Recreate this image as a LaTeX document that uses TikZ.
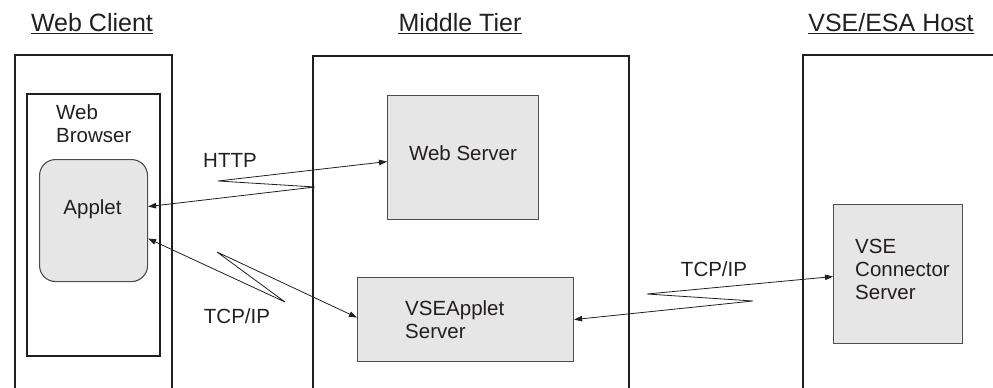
\documentclass[tikz,border=0pt]{standalone}
\usepackage{fontspec}
\setmainfont{Liberation Sans}
\usetikzlibrary{arrows.meta,calc}
\definecolor{TierInk}{HTML}{231F20}
\definecolor{BoxFill}{HTML}{E6E6E6}
\definecolor{BoxEdge}{HTML}{4D4D4D}
\tikzset{>={Triangle[length=8pt,width=5.5pt]},
 tier/.style={draw=TierInk,line width=1.8pt,anchor=north west,inner sep=0},
 srv/.style={draw=BoxEdge,fill=BoxFill,line width=1.1pt,anchor=north west,inner sep=0},
 lbl/.style={font=\fontsize{20.5}{23}\selectfont,inner sep=0,text=TierInk},
 ttl/.style={font=\fontsize{25}{30}\selectfont,inner sep=0,anchor=base,text=TierInk},
 link/.style={draw=TierInk,line width=.8pt,<->}}

\begin{document}
\begin{tikzpicture}[x=1pt,y=-1pt]
\useasboundingbox (0,0) rectangle (993,388);
\clip (0,0) rectangle (993,388);
% titles
\foreach \nm/\x/\txt in {tclient/92/Web Client,tmiddle/460/Middle Tier,thost/891/{VSE/ESA Host}}
 {\node[ttl] (\nm) at (\x,31) {\txt};
  \draw[TierInk,line width=1.3pt] ([yshift=-2.5pt]\nm.base west)--([yshift=-2.5pt]\nm.base east);}
% tiers (open at the bottom)
\node[tier,minimum width=157pt,minimum height=360pt] (client) at (14,54) {};
\node[tier,minimum width=316pt,minimum height=360pt] (middle) at (312,55) {};
\node[tier,minimum width=220pt,minimum height=360pt] (host) at (802,54) {};
\node[tier,line width=1.6pt,minimum width=133pt,minimum height=262pt] (browser) at (26,93) {};
\node[lbl,anchor=north west,align=left] (brlbl) at (56,104.5) {Web\\Browser};
% boxes
\node[srv,rounded corners=16pt,minimum width=108pt,minimum height=122pt] (applet) at (39,159) {};
\node[srv,minimum width=151pt,minimum height=124pt] (websrv) at (387,95) {};
\node[srv,minimum width=216pt,minimum height=84pt] (vseapp) at (357,277) {};
\node[srv,minimum width=129pt,minimum height=139pt] (conn) at (833,204) {};
\node[lbl,anchor=base] (aplbl) at (92.5,214) {Applet};
\node[lbl,anchor=base] (wslbl) at (463,160) {Web Server};
\node[lbl,anchor=north west,align=left] (valbl) at (405,300) {VSEApplet\\Server};
\node[lbl,anchor=north west,align=left] (cnlbl) at (855,239) {VSE\\Connector\\Server};
% protocol links
\node[lbl,anchor=base] (http) at (230,167) {HTTP};
\node[lbl,anchor=base] (tcpl) at (237,323) {TCP/IP};
\node[lbl,anchor=base] (tcpr) at (714,276) {TCP/IP};
\draw[link] ($(applet.east)+(0,-14)$)--(315,187)--(218,181)--($(websrv.west)+(0,4)$);
\draw[link] ($(applet.east)+(0,18)$)--(285,302)--(217,252)--($(vseapp.west)+(0,-2)$);
\draw[link] (vseapp.east)--(753,301)--(647,294)--($(conn.west)+(0,2.5)$);
\end{tikzpicture}
\end{document}
